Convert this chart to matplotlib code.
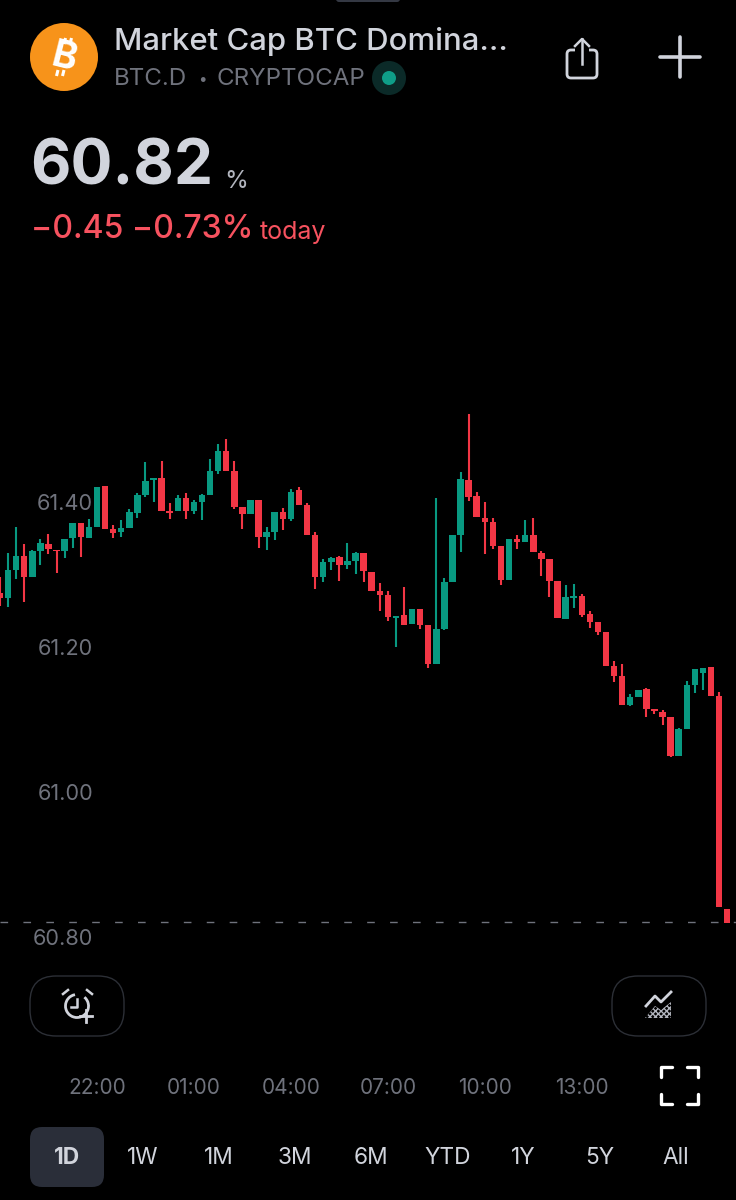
import numpy as np
import matplotlib
matplotlib.use('Agg')
import matplotlib.pyplot as plt
from matplotlib.patches import Circle, FancyBboxPatch, Arc

opens = [61.274, 61.267, 61.306, 61.326, 61.296, 61.333, 61.342, 61.334, 61.333, 61.350,
         61.371, 61.351, 61.366, 61.422, 61.363, 61.358, 61.364, 61.385, 61.410, 61.430,
         61.433, 61.388, 61.387, 61.406, 61.388, 61.400, 61.410, 61.443, 61.470, 61.443,
         61.393, 61.383, 61.403, 61.352, 61.359, 61.386, 61.376, 61.416, 61.396, 61.354,
         61.296, 61.317, 61.324, 61.313, 61.318, 61.329, 61.304, 61.277, 61.272, 61.240,
         61.244, 61.232, 61.252, 61.230, 61.176, 61.225, 61.290, 61.354, 61.431, 61.408,
         61.378, 61.372, 61.339, 61.293, 61.349, 61.345, 61.354, 61.330, 61.321, 61.291,
         61.239, 61.268, 61.270, 61.245, 61.234, 61.220, 61.174, 61.160, 61.120, 61.131,
         61.142, 61.114, 61.111, 61.103, 61.050, 61.087, 61.147, 61.164, 61.172, 61.133,
         60.839]
highs = [61.297, 61.329, 61.366, 61.342, 61.334, 61.349, 61.356, 61.334, 61.349, 61.371,
         61.371, 61.377, 61.421, 61.422, 61.368, 61.375, 61.390, 61.412, 61.455, 61.433,
         61.456, 61.398, 61.410, 61.412, 61.403, 61.411, 61.459, 61.480, 61.487, 61.456,
         61.393, 61.403, 61.403, 61.365, 61.386, 61.392, 61.418, 61.420, 61.399, 61.358,
         61.321, 61.324, 61.325, 61.344, 61.331, 61.329, 61.304, 61.288, 61.277, 61.243,
         61.283, 61.252, 61.252, 61.230, 61.405, 61.295, 61.354, 61.441, 61.521, 61.414,
         61.400, 61.378, 61.339, 61.349, 61.355, 61.375, 61.378, 61.332, 61.321, 61.291,
         61.286, 61.287, 61.273, 61.250, 61.234, 61.220, 61.181, 61.177, 61.135, 61.141,
         61.144, 61.114, 61.113, 61.103, 61.088, 61.153, 61.170, 61.171, 61.172, 61.138,
         60.839]
lows = [61.257, 61.255, 61.294, 61.262, 61.296, 61.313, 61.328, 61.302, 61.323, 61.336,
        61.324, 61.351, 61.366, 61.363, 61.350, 61.352, 61.364, 61.378, 61.407, 61.400,
        61.387, 61.377, 61.387, 61.377, 61.383, 61.375, 61.410, 61.439, 61.443, 61.391,
        61.363, 61.383, 61.337, 61.334, 61.347, 61.361, 61.374, 61.396, 61.354, 61.280,
        61.290, 61.306, 61.291, 61.308, 61.301, 61.289, 61.277, 61.250, 61.236, 61.200,
        61.230, 61.232, 61.225, 61.171, 61.176, 61.223, 61.290, 61.331, 61.401, 61.379,
        61.328, 61.335, 61.286, 61.293, 61.335, 61.345, 61.331, 61.298, 61.269, 61.240,
        61.239, 61.254, 61.241, 61.226, 61.217, 61.174, 61.152, 61.120, 61.119, 61.131,
        61.104, 61.107, 61.092, 61.048, 61.050, 61.087, 61.136, 61.141, 61.133, 60.841,
        60.819]
closes = [61.267, 61.306, 61.326, 61.296, 61.332, 61.343, 61.335, 61.332, 61.349, 61.371,
          61.352, 61.366, 61.421, 61.363, 61.357, 61.364, 61.386, 61.410, 61.429, 61.433,
          61.388, 61.385, 61.406, 61.388, 61.400, 61.410, 61.443, 61.470, 61.443, 61.393,
          61.383, 61.403, 61.352, 61.359, 61.386, 61.376, 61.414, 61.396, 61.354, 61.297,
          61.317, 61.323, 61.313, 61.319, 61.329, 61.305, 61.277, 61.272, 61.241, 61.243,
          61.230, 61.252, 61.230, 61.176, 61.225, 61.290, 61.354, 61.432, 61.407, 61.379,
          61.373, 61.339, 61.293, 61.349, 61.345, 61.354, 61.331, 61.322, 61.291, 61.240,
          61.269, 61.270, 61.244, 61.234, 61.220, 61.174, 61.160, 61.120, 61.131, 61.141,
          61.114, 61.112, 61.103, 61.050, 61.087, 61.147, 61.170, 61.171, 61.133, 60.841,
          60.819]
last_price = 60.82

y_ticks = [61.40, 61.20, 61.00, 60.80]
y_labels = ['61.40', '61.20', '61.00', '60.80']
x_ticks = [12, 24, 36, 48, 60, 72]
x_labels = ['22:00', '01:00', '04:00', '07:00', '10:00', '13:00']
ranges = ['1D', '1W', '1M', '3M', '6M', 'YTD', '1Y', '5Y', 'All']

GREEN = '#089981'
RED = '#f23645'
GREY = '#6f727c'
ICON = '#d1d4dc'
FONT = 'Inter'

fig = plt.figure(figsize=(7.36, 12), dpi=100, facecolor='black')

# chart: y from 400 to 960 px, 725 px per 1.0 of dominance
ax = fig.add_axes([0, 0.2, 1, 560 / 1200], facecolor='black')
idx = np.arange(len(opens))
o = np.array(opens)
h = np.array(highs)
l = np.array(lows)
c = np.array(closes)
colors = [GREEN if b >= a else RED for a, b in zip(o, c)]

ax.axhline(last_price, color='#6f727c', lw=1, dashes=(5.5, 11), zorder=1)
ax.vlines(idx, l, h, colors=colors, lw=1.5, zorder=2)
ax.bar(idx, np.abs(c - o), bottom=np.minimum(o, c), width=0.8, color=colors, zorder=3)

ax.set_xlim(0, 736 / 8.08)
ax.set_ylim(61.40 - 458 / 725, 61.40 + 102 / 725)
for s in ax.spines.values():
    s.set_visible(False)
ax.set_yticks(y_ticks, y_labels, family=FONT)
ax.set_xticks(x_ticks, x_labels, family=FONT)
ax.tick_params(axis='y', length=0, pad=-67, labelsize=15.6, labelcolor=GREY)
ax.tick_params(axis='x', length=0, pad=85, labelsize=15, labelcolor=GREY)

# everything around the chart, in pixels
ui = fig.add_axes([0, 0, 1, 1], facecolor='none')
ui.set_xlim(0, 736)
ui.set_ylim(1200, 0)
ui.axis('off')

ui.add_patch(FancyBboxPatch((336, -6), 64, 8, boxstyle='round,pad=0,rounding_size=3', fc='#343843', ec='none'))

# header, the bitcoin sign is not in any installed font
ui.add_patch(Circle((64, 57), 34, fc='#f7931a', ec='none'))
ui.text(64, 58, 'B', color='white', fontsize=27, weight='bold', rotation=-14,
        ha='center', va='center', family=FONT)
for dx in (-2, 4):
    ui.plot([66 + dx, 67.5 + dx], [44, 38], color='white', lw=2.2, solid_capstyle='butt')
    ui.plot([58.5 + dx, 60 + dx], [76, 70], color='white', lw=2.2, solid_capstyle='butt')
ui.text(114, 41, 'Market Cap BTC Domina...', color=ICON, fontsize=22.4, family=FONT,
        weight='medium', va='center')
ui.text(114, 79, 'BTC.D', color=GREY, fontsize=17.4, family=FONT, va='center')
ui.text(202, 79, '\u2022', color=GREY, fontsize=11, family=FONT, va='center', ha='center')
ui.text(216, 79, 'CRYPTOCAP', color=GREY, fontsize=17.4, family=FONT, va='center')
ui.add_patch(Circle((389, 78), 17, fc='#0b2a28', ec='none'))
ui.add_patch(Circle((389, 78), 7, fc='#0f9d88', ec='none'))

# share icon
ui.add_patch(FancyBboxPatch((567, 50), 30, 28, boxstyle='round,pad=0,rounding_size=4', fc='none', ec=ICON, lw=2))
ui.add_patch(plt.Rectangle((575, 46), 14, 8, fc='black', ec='none', zorder=3))
ui.plot([582, 582], [39, 64], color=ICON, lw=1.8, zorder=4)
ui.plot([575, 582, 589], [46, 39, 46], color=ICON, lw=1.8, zorder=4)
# plus icon
ui.plot([660, 700], [57, 57], color=ICON, lw=2.6, solid_capstyle='round')
ui.plot([680, 680], [37, 77], color=ICON, lw=2.6, solid_capstyle='round')

# price block
ui.text(30, 168, '60.82', color=ICON, fontsize=44.8, family=FONT, weight='bold', va='center')
ui.text(224, 182, '%', color='#b2b5be', fontsize=17.5, family=FONT, va='center')
ui.text(31, 229, '\u22120.45 \u22120.73%', color='#f7525f', fontsize=23, family=FONT, weight='medium', va='center')
ui.text(260, 232, 'today', color='#f7525f', fontsize=18, family=FONT, va='center')

# buttons under the chart
for px in (30, 612):
    ui.add_patch(FancyBboxPatch((px, 976), 94, 60, boxstyle='round,pad=0,rounding_size=26', fc='none', ec='#2c2f36', lw=1))
ui.add_patch(Arc((77, 1006), 23, 23, theta1=-50, theta2=260, color=ICON, lw=2))
ui.plot([77, 77, 71], [999, 1007, 1007], color=ICON, lw=1.8)
ui.plot([63, 68], [994, 990], color=ICON, lw=1.8)
ui.plot([92, 87], [994, 990], color=ICON, lw=1.8)
ui.plot([80, 92], [1016, 1016], color=ICON, lw=2)
ui.plot([86, 86], [1010, 1022], color=ICON, lw=2)

ui.plot([646, 655, 661, 671], [1006, 996, 1002, 992], color=ICON, lw=2)
ui.fill([645, 655, 661, 671, 671, 645], [1018, 1006, 1010, 1002, 1018, 1018], fc='none', ec='#b2b5be', hatch='xxxxxx', lw=0)

# fullscreen corners
corner = dict(color='#ffffff', lw=2.4, solid_capstyle='round')
ui.plot([661, 661, 672], [1077, 1067, 1067], **corner)
ui.plot([687, 698, 698], [1067, 1067, 1077], **corner)
ui.plot([661, 661, 672], [1094, 1104, 1104], **corner)
ui.plot([687, 698, 698], [1104, 1104, 1094], **corner)

# range selector
ui.add_patch(FancyBboxPatch((30, 1127), 74, 60, boxstyle='round,pad=0,rounding_size=12', fc='#2a2e39', ec='none'))
for i, name in enumerate(ranges):
    ui.text(67 + i * 76.1, 1158, name, color=ICON, fontsize=16.3, family=FONT,
            weight='bold' if i == 0 else 'normal', ha='center', va='center')

fig.savefig('out.png', dpi=100, facecolor='black')
